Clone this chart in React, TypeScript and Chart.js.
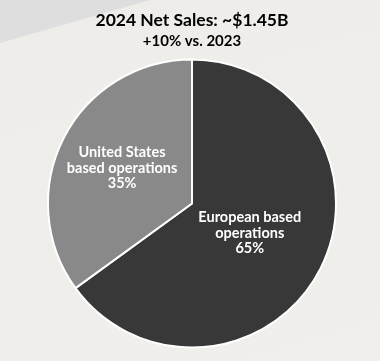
import React, { useEffect, useRef } from "react";
import { Chart, registerables } from "chart.js";

Chart.register(...registerables);

const categories = ["European based operations", "United States based operations"];
const labelLines = [["European based", "operations"], ["United States", "based operations"]];
const shares = [65, 35];
const colors = ["#383838", "#898989"];
const titleText = "2024 Net Sales: ~$1.45B";
const subtitleText = "+10% vs. 2023";
const FONT = "Lato, 'DejaVu Sans', sans-serif";

const labelPlugin = {
  id: "sliceLabels",
  afterDatasetsDraw(chart: any) {
    const ctx = chart.ctx;
    const meta = chart.getDatasetMeta(0);
    const ratios = [0.45, 0.545];
    meta.data.forEach((arc: any, i: number) => {
      const { x, y, startAngle, endAngle, outerRadius } = arc.getProps(
        ["x", "y", "startAngle", "endAngle", "outerRadius"],
        true
      );
      const mid = (startAngle + endAngle) / 2;
      const r = outerRadius * ratios[i];
      const cx = x + Math.cos(mid) * r;
      const cy = y + Math.sin(mid) * r;
      const lines = [...labelLines[i], shares[i] + "%"];
      ctx.save();
      ctx.fillStyle = "#ffffff";
      ctx.font = `bold 14.5px ${FONT}`;
      ctx.textAlign = "center";
      ctx.textBaseline = "middle";
      const lh = 15.5;
      lines.forEach((t, k) => {
        ctx.fillText(t, cx, cy + (k - (lines.length - 1) / 2) * lh);
      });
      ctx.restore();
    });
  },
};

export default function App() {
  const ref = useRef<HTMLCanvasElement>(null);
  useEffect(() => {
    if (!ref.current) return;
    const chart = new Chart(ref.current, {
      type: "pie",
      data: {
        labels: categories,
        datasets: [
          {
            data: shares,
            backgroundColor: colors,
            borderColor: "#ffffff",
            borderWidth: 2,
          },
        ],
      },
      options: {
        animation: false,
        responsive: false,
        layout: { padding: { left: 47, right: 43, bottom: 12, top: 0 } },
        plugins: {
          legend: { display: false },
          tooltip: { enabled: false },
          title: {
            display: true,
            text: titleText,
            color: "#000000",
            font: { family: FONT, size: 17.5, weight: "bold" },
            padding: { top: 10, bottom: 1 },
          },
          subtitle: {
            display: true,
            text: subtitleText,
            color: "#000000",
            font: { family: FONT, size: 15, weight: "bold" },
            padding: { top: 0, bottom: 8 },
          },
        },
      },
      plugins: [labelPlugin],
    });
    return () => chart.destroy();
  }, []);
  return (
    <div
      style={{
        position: "absolute",
        left: 0,
        top: 0,
        width: 380,
        height: 361,
        background:
          "linear-gradient(164deg, #dddddd 0%, #dedede 9%, #efedea 9.3%, #efeeeb 60%, #f1efec 100%)",
      }}
    >
      <canvas ref={ref} width={380} height={361} style={{ display: "block" }} />
    </div>
  );
}
